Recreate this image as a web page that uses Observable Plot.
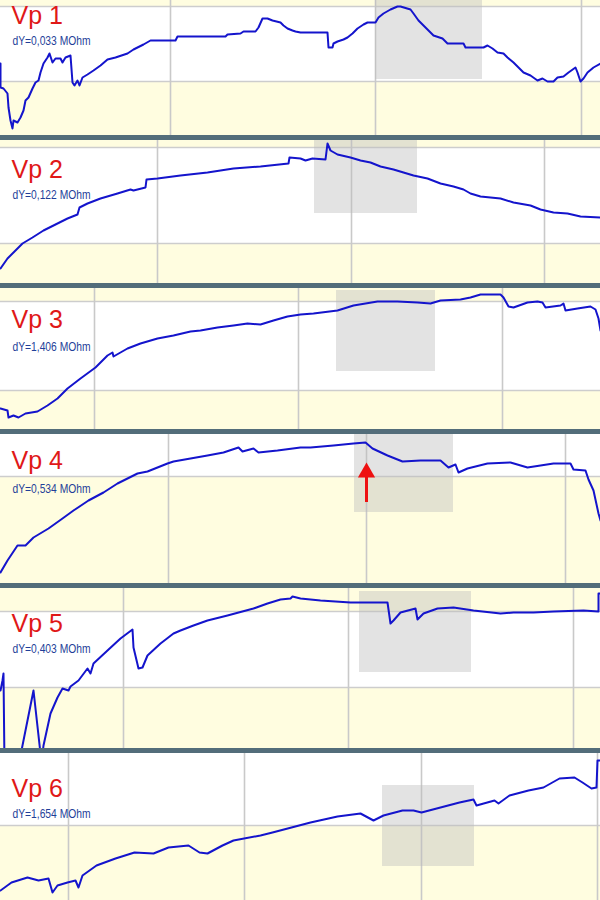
<!DOCTYPE html>
<html><head><meta charset="utf-8">
<script src="https://cdn.jsdelivr.net/npm/d3@7"></script>
<script src="https://cdn.jsdelivr.net/npm/@observablehq/plot@0.6"></script>
<style>
body{margin:0;background:#536d7a;}
#chart{width:600px;height:900px;display:flex;flex-direction:column;gap:5px;background:#536d7a;overflow:hidden;}
#chart svg{display:block;flex:none;}
</style></head><body><div id="chart"></div>
<script>
// ---- data (x = time position, y = signal reading; each panel has its own scale) ----
const labels = ["Vp 1", "Vp 2", "Vp 3", "Vp 4", "Vp 5", "Vp 6"];
const dyTexts = ["dY=0,033 MOhm", "dY=0,122 MOhm", "dY=1,406 MOhm", "dY=0,534 MOhm", "dY=0,403 MOhm", "dY=1,654 MOhm"];

const vp1 = [[0,63],[0,87],[3,88],[7,93],[8,107],[10,120],[12,128],[13,120],[17,122],[20,117],[23,110],[25,100],[28,97],[32,88],[35,82],[38,80],[40,72],[43,63],[47,57],[49,53],[52,62],[55,58],[60,58],[62,62],[65,57],[70,55],[72,82],[74,85],[77,80],[79,85],[82,77],[87,74],[93,70],[100,65],[107,59],[115,57],[127,53],[133,49],[143,44],[150,40],[175,40],[177,36],[225,36],[227,34],[240,33],[243,31],[255,31],[258,27],[262,18],[267,18],[272,20],[280,22],[283,25],[287,28],[292,30],[295,31],[300,32],[327,32],[328,47],[332,47],[333,43],[337,41],[343,39],[347,37],[352,33],[357,28],[363,24],[367,22],[375,22],[378,17],[383,13],[390,9],[397,6],[400,6],[410,9],[413,13],[418,20],[423,25],[428,30],[433,35],[442,38],[447,43],[463,43],[465,47],[483,47],[487,45],[492,48],[497,52],[503,53],[507,57],[513,62],[518,67],[523,72],[530,75],[537,80],[542,78],[547,81],[553,81],[557,77],[563,76],[568,72],[575,67],[577,72],[580,81],[583,78],[587,72],[593,67],[600,63]];
const vp2 = [[0,268],[7,258],[15,250],[22,243],[32,237],[43,230],[57,223],[67,218],[77,214],[79,207],[87,203],[100,198],[117,193],[130,189],[133,190],[145,187],[146,179],[157,178],[180,175],[207,172],[233,168],[260,166],[288,163],[289,157],[300,158],[305,160],[312,158],[325,159],[327,143],[330,150],[337,154],[350,157],[360,160],[370,162],[380,166],[393,169],[403,172],[413,175],[427,178],[440,183],[453,186],[463,189],[470,193],[480,196],[500,198],[513,202],[530,205],[540,209],[553,212],[567,213],[580,216],[600,217]];
const vp3 = [[0,408],[7,410],[8,417],[13,415],[18,417],[25,413],[37,411],[47,405],[57,398],[67,388],[80,378],[95,367],[107,355],[112,352],[113,356],[127,348],[140,343],[157,338],[173,335],[190,331],[200,330],[217,327],[233,325],[247,323],[260,324],[273,320],[287,316],[300,314],[313,313],[337,310],[353,305],[377,301],[397,301],[417,302],[430,303],[440,300],[460,299],[470,297],[480,294],[500,294],[503,297],[508,306],[513,307],[527,302],[537,301],[542,302],[545,307],[560,305],[563,303],[565,310],[577,308],[590,306],[595,309],[598,318],[600,330]];
const vp4 = [[0,572],[7,560],[17,545],[25,545],[33,537],[48,528],[62,518],[73,510],[88,500],[103,492],[117,483],[137,473],[147,471],[167,463],[173,461],[190,458],[207,455],[223,452],[238,447],[242,451],[253,448],[258,452],[277,450],[300,447],[310,447],[333,445],[353,443],[365,442],[372,448],[387,455],[402,461],[420,460],[440,460],[448,467],[455,464],[458,472],[467,468],[487,463],[510,462],[527,467],[540,465],[553,463],[570,463],[573,469],[585,470],[588,479],[593,490],[598,513],[600,520]];
const vp5 = [[0,690],[2,680],[3,673],[4,765],[18,765],[33,690],[41,762],[43,745],[50,713],[57,697],[62,688],[68,690],[70,686],[78,680],[87,668],[90,673],[93,663],[107,650],[120,638],[132,629],[133,647],[138,668],[142,667],[147,655],[160,643],[173,633],[180,630],[193,625],[207,620],[227,615],[253,608],[267,603],[280,599],[290,598],[292,596],[300,598],[320,600],[350,602],[387,602],[390,623],[393,620],[400,612],[415,608],[417,619],[423,613],[437,608],[453,607],[473,610],[500,613],[513,612],[533,612],[553,611],[583,610],[598,611],[598,593],[600,593]];
const vp6 = [[0,890],[11,882],[27,877],[38,880],[48,878],[52,892],[57,885],[67,882],[75,880],[78,887],[82,875],[96,865],[115,858],[134,852],[153,853],[168,847],[188,845],[199,852],[207,853],[222,845],[233,840],[260,835],[272,832],[291,827],[310,822],[337,816],[360,813],[373,820],[383,815],[402,810],[413,810],[421,812],[440,807],[459,802],[473,799],[476,805],[494,800],[498,803],[509,795],[528,790],[543,787],[559,778],[574,777],[582,782],[591,788],[596,787],[597,760],[600,760]];
const series = [vp1, vp2, vp3, vp4, vp5, vp6];

// y extents of each panel [bottom, top] in reading units
const yExtents = [[135,0],[283,140],[429,288],[583,434],[748,588],[900,753]];
// white "normal" band [top, bottom] and its visible border lines
const bands = [[6,81],[147,243],[301,390],[434,476],[611,687],[753,825]];
const bandLines = [[6,81],[147,243],[301,390],[476],[611,687],[825]];
// vertical time grid per panel
const gridX = [[170,375,581],[157,351,544],[94,298,502],[168,366,565],[123,348,573],[68,244,421,597]];
// highlighted window per panel [x1, x2, y1, y2]
const windows = [[375,482,0,79],[314,417,140,213],[336,435,290,371],[354,453,434,512],[359,471,591,672],[382,474,785,866]];
// label baselines (px from panel top): [name, dY]
const labelBase = [[23,44],[37,58],[39,62],[34,58],[43,64],[43,64]];
// red marker in panel 4
const marker = {panel: 3, x: 366, headY: 472, y1: 476, y2: 502};

const container = document.getElementById("chart");
series.forEach((data, i) => {
  const [yb, yt] = yExtents[i];
  const h = yb - yt;
  const w = windows[i];
  const marks = [
    Plot.rect([bands[i]], {y1: d => d[0], y2: d => d[1], fill: "white"}),
    Plot.ruleY(bandLines[i], {stroke: "#cdcdcd", strokeWidth: 1.6}),
    Plot.ruleX(gridX[i], {stroke: "#c9c9c9", strokeWidth: 1.6}),
    Plot.rect([w], {x1: d => d[0], x2: d => d[1], y1: d => d[2], y2: d => d[3], fill: "#bcbcbc", fillOpacity: 0.42}),
    Plot.line(data, {x: d => d[0], y: d => d[1], stroke: "#1414cc", strokeWidth: 2, clip: true}),
    Plot.text([labels[i]], {frameAnchor: "top-left", lineAnchor: "bottom", textAnchor: "start", dx: 11, dy: labelBase[i][0], fill: "#e01818", fontSize: 25, fontFamily: "'Liberation Sans', Arial, sans-serif"}),
    Plot.text([dyTexts[i]], {frameAnchor: "top-left", lineAnchor: "bottom", textAnchor: "start", dx: 12, dy: labelBase[i][1], fill: "#1f3f99", fontSize: 13.5, fontFamily: "'Liberation Sans', Arial, sans-serif"})
  ];
  if (marker.panel === i) {
    marks.push(Plot.ruleX([marker], {x: "x", y1: "y1", y2: "y2", stroke: "#ee1111", strokeWidth: 3}));
    marks.push(Plot.dot([marker], {x: "x", y: "headY", symbol: "triangle", r: 6.4, fill: "#ee1111", stroke: "none"}));
  }
  const svg = Plot.plot({
    width: 600, height: h, margin: 0,
    x: {domain: [0, 600], axis: null},
    y: {domain: [yb, yt], axis: null},
    style: {background: "#fffde0", overflow: "hidden"},
    marks
  });
  // condense the dY caption like the original narrow font
  svg.querySelectorAll("text").forEach(t => {
    if (t.textContent === dyTexts[i]) {
      t.setAttribute("textLength", "78");
      t.setAttribute("lengthAdjust", "spacingAndGlyphs");
    }
  });
  container.appendChild(svg);
});
</script></body></html>
